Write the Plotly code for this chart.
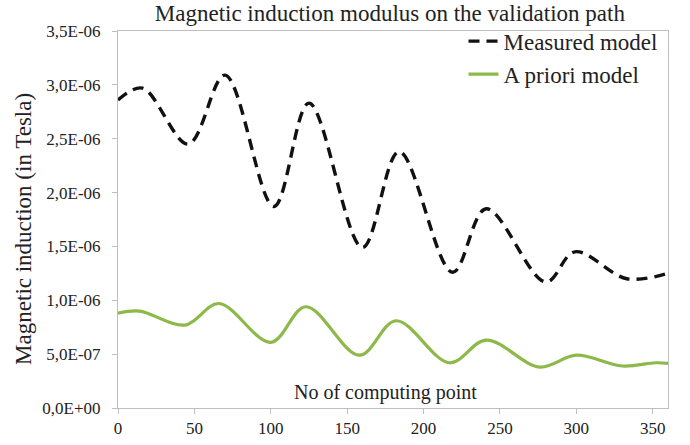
import plotly.graph_objects as go

# Measured model (black dashed) - read at the extrema of the curve
meas_x = [0, 16, 46, 70, 102, 125, 160, 184, 219, 241, 280, 299, 333, 360]
meas_y = [2.86e-6, 2.97e-6, 2.45e-6, 3.09e-6, 1.87e-6, 2.83e-6, 1.49e-6, 2.38e-6, 1.26e-6, 1.85e-6, 1.17e-6,
          1.45e-6, 1.20e-6, 1.25e-6]

# A priori model (green solid)
apr_x = [0, 14, 44, 66, 100, 123, 158, 182, 217, 241, 276, 300, 330, 352, 360]
apr_y = [0.88e-6, 0.90e-6, 0.77e-6, 0.97e-6, 0.61e-6, 0.94e-6, 0.49e-6, 0.81e-6, 0.42e-6, 0.63e-6, 0.38e-6,
         0.49e-6, 0.39e-6, 0.42e-6, 0.415e-6]

y_tick_vals = [0, 0.5e-6, 1.0e-6, 1.5e-6, 2.0e-6, 2.5e-6, 3.0e-6, 3.5e-6]
y_tick_text = ["0,0E+00", "5,0E-07", "1,0E-06", "1,5E-06", "2,0E-06", "2,5E-06", "3,0E-06", "3,5E-06"]
x_tick_vals = [0, 50, 100, 150, 200, 250, 300, 350]

FONT = "Liberation Serif"
TXT = "#222222"
GRID = "#BFBFBF"

fig = go.Figure()
fig.add_trace(go.Scatter(x=meas_x, y=meas_y, mode="lines", name="Measured model",
                         line=dict(color="#111111", width=3.4, dash="11px,7px", shape="spline", smoothing=1.0)))
fig.add_trace(go.Scatter(x=apr_x, y=apr_y, mode="lines", name="A priori model",
                         line=dict(color="#8DB84A", width=3.2, shape="spline", smoothing=1.0)))

fig.update_layout(
    width=690, height=445,
    margin=dict(l=118, r=22, t=31, b=37, autoexpand=False),
    paper_bgcolor="white", plot_bgcolor="white",
    font=dict(family=FONT, color=TXT),
    title=dict(text="Magnetic induction modulus on the validation path", x=0.565, xanchor="center",
               y=0.972, yanchor="middle", font=dict(family=FONT, size=23, color=TXT)),
    legend=dict(x=0.99, xanchor="right", y=1.03, yanchor="top", bgcolor="rgba(0,0,0,0)",
                font=dict(family=FONT, size=23, color=TXT), tracegroupgap=0, itemwidth=30),
    showlegend=True,
    xaxis=dict(range=[0, 360], tickvals=x_tick_vals, ticks="outside", ticklen=5, tickcolor=GRID,
               showline=True, linecolor=GRID, linewidth=1, mirror=True, showgrid=False, zeroline=False,
               automargin=False, tickfont=dict(family=FONT, size=17, color=TXT)),
    yaxis=dict(range=[0, 3.5e-6], tickvals=y_tick_vals, ticktext=y_tick_text, ticks="outside", ticklen=5,
               tickcolor=GRID, showline=True, linecolor=GRID, linewidth=1, mirror=True, showgrid=False,
               zeroline=False, automargin=False, ticklabelstandoff=8,
               tickfont=dict(family=FONT, size=17, color=TXT)),
    annotations=[
        dict(text="No of computing point", x=0.487, xref="paper", y=0.04, yref="paper",
             yanchor="middle", showarrow=False, font=dict(family=FONT, size=20, color=TXT)),
        dict(text="Magnetic induction (in Tesla)", x=-0.171, xref="paper", y=0.475, yref="paper",
             xanchor="center", yanchor="middle", textangle=-90, showarrow=False,
             font=dict(family=FONT, size=23, color=TXT)),
    ],
)

# remove the default page margin so the figure sits at the window's top-left corner
fig.write_html("out.html", config={"displayModeBar": False},
               post_script="document.body.style.margin='0';document.body.style.overflow='hidden';")
